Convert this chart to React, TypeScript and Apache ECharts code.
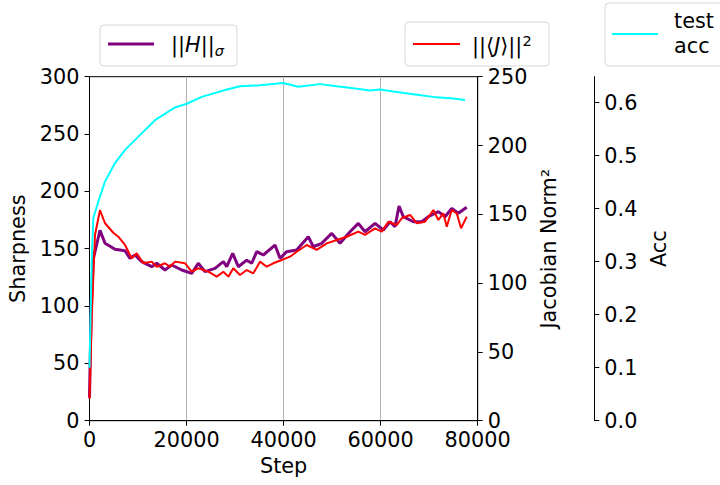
import React, { useEffect, useRef } from "react";
import * as echarts from "echarts";

// ---- Data ----
const sharpSteps = [0, 310, 720, 2160, 3200, 5250, 7300, 8350, 9380, 10760, 12820, 13850, 15560, 16940, 19000, 21060, 22420, 23800, 25860, 27580, 28280, 29510, 30670, 32400, 33430, 34460, 35820, 38230, 39260, 40640, 42700, 45090, 46130, 47860, 49920, 51630, 53690, 55400, 56780, 58840, 60550, 61930, 62960, 63790, 64670, 66730, 68470, 69830, 71890, 73270, 74650, 76010, 77740];
const sharpValues = [20, 90, 140, 166, 154.7, 149.5, 148.3, 141.6, 144.5, 138.7, 134.3, 137.3, 131.4, 135.8, 131.4, 128.5, 137.3, 130, 132.9, 138.7, 134.3, 146, 134.3, 140, 137.3, 147.4, 144.5, 153.2, 141.6, 147.4, 148.9, 160.5, 151.7, 154.7, 163.4, 154.7, 164.8, 172.1, 164.8, 172.1, 166.3, 173.5, 169.2, 187.2, 177.9, 173.5, 173.5, 177.9, 182.3, 177.9, 185.2, 180.9, 186.1];

const jacSteps = [0, 515, 1130, 2160, 3200, 4900, 5940, 7320, 8700, 9730, 11090, 12820, 13850, 15560, 16590, 17620, 19680, 21060, 22420, 24480, 26220, 27580, 28620, 29640, 31020, 32400, 33760, 35140, 36520, 37880, 39610, 41320, 42700, 44770, 46830, 48890, 50950, 53010, 55400, 56780, 58840, 60220, 61580, 63310, 64340, 66060, 67440, 69150, 70860, 71890, 72920, 73620, 74650, 75680, 76570, 77740];
const jacValues = [16, 80, 135, 153, 143.5, 136.6, 133.7, 127.7, 118, 121.7, 114.4, 115.6, 111.9, 114.4, 111.9, 115.6, 114.4, 108.3, 110.8, 108.3, 104.7, 108.3, 104.7, 110.8, 105.9, 109.5, 107.1, 115.6, 111.9, 114.4, 116.8, 119.2, 122.8, 127.7, 124.1, 128.9, 131.3, 133.7, 137.4, 135, 139.8, 137.4, 144.6, 142.2, 147.1, 149.5, 143.5, 144.6, 153.1, 145.9, 150.7, 141, 153.1, 150.7, 139.8, 148.3];

const accSteps = [0, 450, 780, 1810, 3190, 5255, 7320, 10060, 13500, 17620, 20030, 23120, 27930, 31020, 35140, 39940, 43030, 47500, 50950, 54370, 57810, 59870, 62610, 66730, 71560, 74980, 77390];
const accValues = [0.1, 0.3, 0.382, 0.413, 0.451, 0.486, 0.511, 0.536, 0.567, 0.591, 0.598, 0.611, 0.624, 0.631, 0.633, 0.637, 0.63, 0.635, 0.631, 0.627, 0.623, 0.625, 0.621, 0.616, 0.61, 0.608, 0.605];

const accTicks = [0, 0.1, 0.2, 0.3, 0.4, 0.5, 0.6];

const FONT = "DejaVu Sans";
const FS = 20.8;

function pairs(xs: number[], ys: number[]) {
  return xs.map((x, i) => [x, ys[i]]);
}

export default function App() {
  const ref = useRef<HTMLDivElement>(null);
  useEffect(() => {
    if (!ref.current) return;
    const chart = echarts.init(ref.current, undefined, { renderer: "svg" });
    const axisLine = { show: true, lineStyle: { color: "#000", width: 1 } };
    const axisTick = { show: true, length: 5, lineStyle: { color: "#000", width: 1 } };
    const axisLabel = {
      color: "#000",
      fontSize: FS,
      fontFamily: FONT,
      margin: 10,
      lineHeight: 16,
      formatter: (v: number) => String(v),
    };
    const nameStyle = { color: "#000", fontSize: FS, fontFamily: FONT };
    const legendBox = (x: number, y: number, w: number, h: number) => ({
      type: "rect",
      shape: { x, y, width: w, height: h, r: 4 },
      style: { fill: "rgba(255,255,255,0.8)", stroke: "#d6d6d6", lineWidth: 1 },
      z: 100,
    });
    const legendLine = (x1: number, x2: number, y: number, color: string, w: number) => ({
      type: "line",
      shape: { x1, y1: y, x2, y2: y },
      style: { stroke: color, lineWidth: w },
      z: 101,
    });
    const base = { fontSize: FS, fontFamily: FONT, fill: "#000", lineHeight: 26 };
    const txt = (x: number, y: number, text: string, extra: any = {}) => ({
      type: "text",
      x,
      y,
      style: {
        text,
        fontSize: FS,
        fontFamily: FONT,
        fill: "#000",
        verticalAlign: "middle",
        align: "left",
        ...extra,
      },
      z: 102,
    });
    chart.setOption({
      animation: false,
      grid: {
        left: 89.5,
        top: 76.7,
        width: 388.2,
        height: 344,
        containLabel: false,
        outerBoundsMode: "none",
        show: true,
        borderColor: "#000",
        borderWidth: 1,
        backgroundColor: "transparent",
      },
      xAxis: {
        type: "value",
        min: 0,
        max: 80000,
        interval: 20000,
        name: "Step",
        nameLocation: "middle",
        nameGap: 32,
        nameTextStyle: nameStyle,
        axisLine,
        axisTick,
        axisLabel: { ...axisLabel, margin: 11 },
        splitLine: { show: true, lineStyle: { color: "#b0b0b0", width: 1 } },
      },
      yAxis: [
        {
          type: "value",
          min: 0,
          max: 300,
          interval: 50,
          position: "left",
          name: "Sharpness",
          nameLocation: "middle",
          nameRotate: 90,
          nameGap: 55,
          nameTextStyle: nameStyle,
          axisLine,
          axisTick,
          axisLabel,
          splitLine: { show: false },
        },
        {
          type: "value",
          min: 0,
          max: 250,
          interval: 50,
          position: "right",
          name: "Jacobian Norm²",
          nameLocation: "middle",
          nameRotate: 90,
          nameGap: 58,
          nameTextStyle: nameStyle,
          axisLine,
          axisTick,
          axisLabel,
          splitLine: { show: false },
        },
        {
          type: "value",
          min: 0,
          max: 0.649,
          position: "right",
          offset: 116.6,
          name: "Acc",
          nameLocation: "middle",
          nameRotate: 90,
          nameGap: 45,
          nameTextStyle: nameStyle,
          axisLine,
          axisTick: { ...axisTick, customValues: accTicks },
          axisLabel: {
            ...axisLabel,
            customValues: accTicks,
            formatter: (v: number) => v.toFixed(1),
          },
          splitLine: { show: false },
        },
      ],
      series: [
        {
          type: "line",
          yAxisIndex: 0,
          data: pairs(sharpSteps, sharpValues),
          showSymbol: false,
          lineStyle: { color: "#800080", width: 3 },
          itemStyle: { color: "#800080" },
          z: 2,
        },
        {
          type: "line",
          yAxisIndex: 1,
          data: pairs(jacSteps, jacValues),
          showSymbol: false,
          lineStyle: { color: "#ff0000", width: 2 },
          itemStyle: { color: "#ff0000" },
          z: 3,
        },
        {
          type: "line",
          yAxisIndex: 2,
          data: pairs(accSteps, accValues),
          showSymbol: false,
          lineStyle: { color: "#00ffff", width: 2 },
          itemStyle: { color: "#00ffff" },
          z: 4,
        },
      ],
      graphic: [
        legendBox(100, 25, 137, 41),
        legendLine(108, 154, 44, "#800080", 3),
        txt(171, 45, "{n|||}{i|H}{n|||}{s|σ}", {
          rich: {
            n: { ...base },
            i: { ...base, fontStyle: "italic" },
            s: { ...base, fontSize: 14.5, fontStyle: "italic", lineHeight: 14, verticalAlign: "bottom" },
          },
        }),
        legendBox(405, 22, 144, 44),
        legendLine(413, 460, 44, "#ff0000", 2),
        txt(472, 46, "{n|||⟨}{i|J}{n|⟩||}{p|2}", {
          rich: {
            n: { ...base },
            i: { ...base, fontStyle: "italic" },
            p: { ...base, fontSize: 14.5, lineHeight: 14, verticalAlign: "top" },
          },
        }),
        legendBox(605, 3, 130, 63),
        legendLine(612, 658, 34, "#00ffff", 2),
        txt(674, 21, "test"),
        txt(674, 46, "acc"),
      ],
    });
    return () => chart.dispose();
  }, []);
  return <div ref={ref} style={{ width: 720, height: 485, position: "absolute", left: 0, top: 0 }} />;
}
